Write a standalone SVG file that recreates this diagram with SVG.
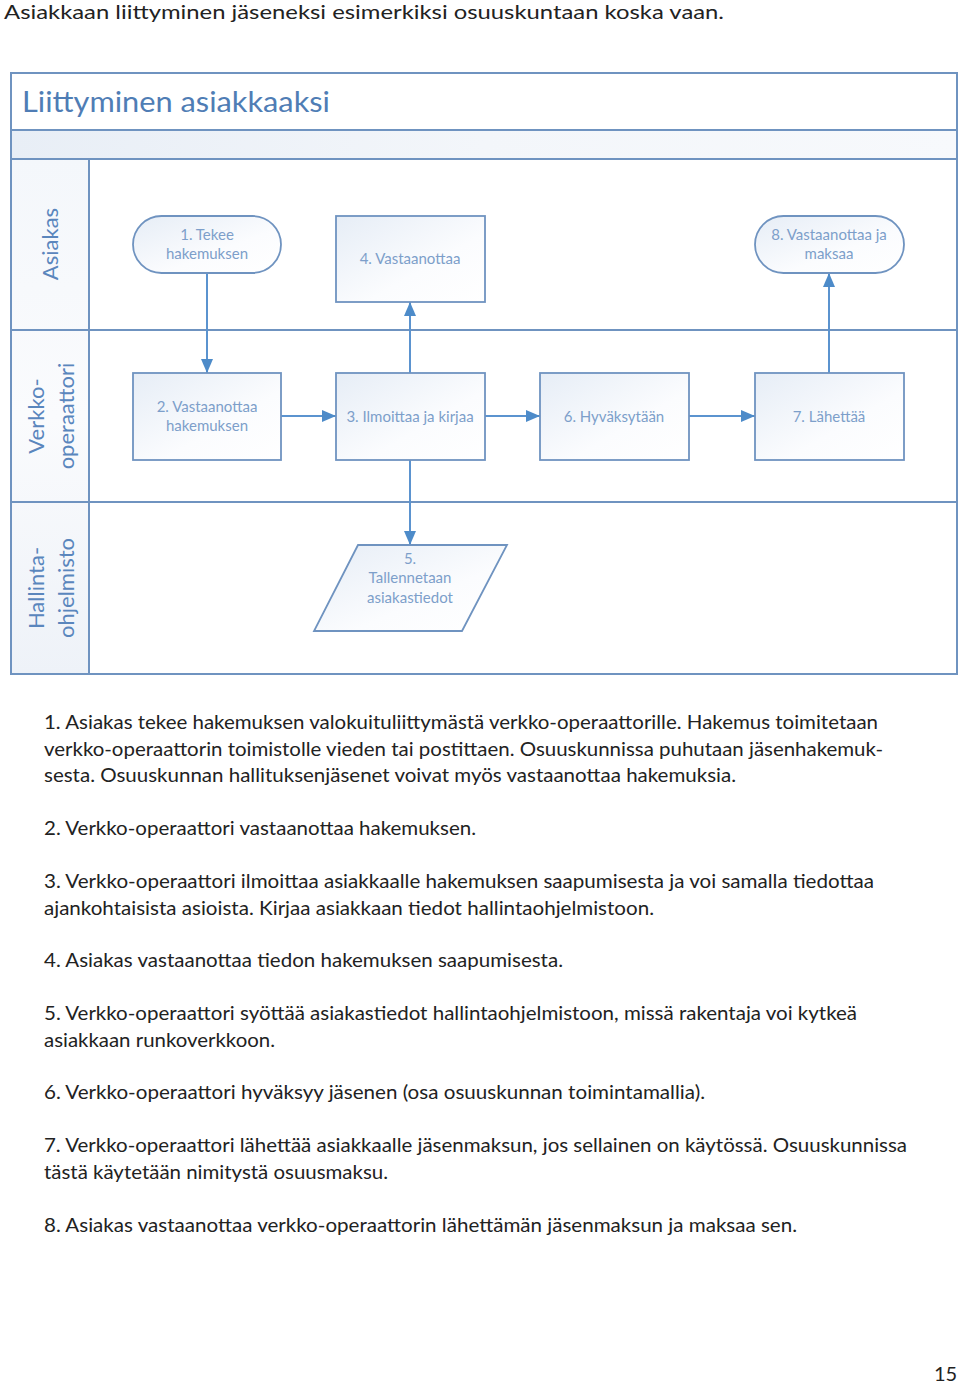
<svg xmlns="http://www.w3.org/2000/svg" width="960" height="1386" viewBox="0 0 960 1386">
<defs>
<linearGradient id="nodeGrad" x1="0" y1="0" x2="1" y2="1">
<stop offset="0" stop-color="#e6edf6"/>
<stop offset="0.6" stop-color="#fbfcfe"/>
<stop offset="1" stop-color="#ffffff"/>
</linearGradient>
<linearGradient id="laneGrad" x1="0" y1="0" x2="0" y2="1">
<stop offset="0" stop-color="#f4f7fb"/>
<stop offset="0.5" stop-color="#fafbfd"/>
<stop offset="1" stop-color="#eef2f8"/>
</linearGradient>
<linearGradient id="bandGrad" x1="0" y1="0" x2="1" y2="0">
<stop offset="0" stop-color="#e8eef6"/>
<stop offset="0.5" stop-color="#f3f6fa"/>
<stop offset="1" stop-color="#f7f9fc"/>
</linearGradient>
<marker id="arrow" markerWidth="14" markerHeight="12" refX="14" refY="6" orient="auto" markerUnits="userSpaceOnUse">
<path d="M0,0 L14,6 L0,12 Z" fill="#4d8bc9"/>
</marker>
</defs>
<style>
.body{font-family:Lato,"Open Sans","Liberation Sans",sans-serif;font-size:20px;fill:#222222}
.frame{fill:none;stroke:#6f93c0;stroke-width:2}
.node{fill:url(#nodeGrad);stroke:#6f93c0;stroke-width:1.8}
.ntext{font-family:Lato,"Open Sans","Liberation Sans",sans-serif;font-size:15px;fill:#7d9fca;text-anchor:middle}
.lane{font-family:Lato,"Open Sans","Liberation Sans",sans-serif;font-size:22px;fill:#5a86bd;text-anchor:middle}
.conn{fill:none;stroke:#5b93cf;stroke-width:2;marker-end:url(#arrow)}
</style>
<rect width="960" height="1386" fill="#ffffff"/>
<text class="body" x="4" y="19" font-size="21" textLength="720" lengthAdjust="spacingAndGlyphs">Asiakkaan liittyminen jäseneksi esimerkiksi osuuskuntaan koska vaan.</text>

<g id="frame">
<rect x="11" y="130" width="946" height="29" fill="url(#bandGrad)"/>
<rect x="11" y="159" width="78" height="515" fill="url(#laneGrad)"/>
<rect x="11" y="73" width="946" height="601" class="frame"/>
<line x1="11" y1="130" x2="957" y2="130" class="frame"/>
<line x1="11" y1="159" x2="957" y2="159" class="frame"/>
<line x1="11" y1="330" x2="957" y2="330" class="frame"/>
<line x1="11" y1="502" x2="957" y2="502" class="frame"/>
<line x1="89" y1="159" x2="89" y2="674" class="frame"/>
<text x="22" y="112" font-family="Lato,'Open Sans','Liberation Sans',sans-serif" font-size="28" fill="#4f7db5" textLength="308" lengthAdjust="spacingAndGlyphs">Liittyminen asiakkaaksi</text>
</g>

<g id="lane-asiakas">
<text class="lane" transform="translate(58,244) rotate(-90)">Asiakas</text>
</g>
<g id="lane-verkko">
<text class="lane" transform="translate(44,416) rotate(-90)">Verkko-</text>
<text class="lane" transform="translate(74,416) rotate(-90)">operaattori</text>
</g>
<g id="lane-hallinta">
<text class="lane" transform="translate(44,588) rotate(-90)">Hallinta-</text>
<text class="lane" transform="translate(74,588) rotate(-90)">ohjelmisto</text>
</g>

<g id="connectors">
<line x1="207" y1="273" x2="207" y2="373" class="conn"/>
<line x1="281" y1="416" x2="336" y2="416" class="conn"/>
<line x1="410" y1="373" x2="410" y2="302" class="conn"/>
<line x1="410" y1="460" x2="410" y2="545" class="conn"/>
<line x1="485" y1="416" x2="540" y2="416" class="conn"/>
<line x1="689" y1="416" x2="755" y2="416" class="conn"/>
<line x1="829" y1="373" x2="829" y2="273" class="conn"/>
</g>

<g id="node1">
<rect x="133" y="216" width="148" height="57" rx="28.5" class="node"/>
<text class="ntext" x="207" y="240">1. Tekee</text>
<text class="ntext" x="207" y="259">hakemuksen</text>
</g>
<g id="node4">
<rect x="336" y="216" width="149" height="86" class="node"/>
<text class="ntext" x="410" y="264">4. Vastaanottaa</text>
</g>
<g id="node8">
<rect x="755" y="216" width="149" height="57" rx="28.5" class="node"/>
<text class="ntext" x="829" y="240">8. Vastaanottaa ja</text>
<text class="ntext" x="829" y="259">maksaa</text>
</g>
<g id="node2">
<rect x="133" y="373" width="148" height="87" class="node"/>
<text class="ntext" x="207" y="412">2. Vastaanottaa</text>
<text class="ntext" x="207" y="431">hakemuksen</text>
</g>
<g id="node3">
<rect x="336" y="373" width="149" height="87" class="node"/>
<text class="ntext" x="410" y="422">3. Ilmoittaa ja kirjaa</text>
</g>
<g id="node6">
<rect x="540" y="373" width="149" height="87" class="node"/>
<text class="ntext" x="614" y="422">6. Hyväksytään</text>
</g>
<g id="node7">
<rect x="755" y="373" width="149" height="87" class="node"/>
<text class="ntext" x="829" y="422">7. Lähettää</text>
</g>
<g id="node5">
<polygon points="358,545 507,545 462,631 314,631" class="node"/>
<text class="ntext" x="410" y="564">5.</text>
<text class="ntext" x="410" y="583">Tallennetaan</text>
<text class="ntext" x="410" y="603">asiakastiedot</text>
</g>

<g id="description">
<text class="body" x="44" y="729" textLength="834" lengthAdjust="spacingAndGlyphs">1. Asiakas tekee hakemuksen valokuituliittymästä verkko-operaattorille. Hakemus toimitetaan</text>
<text class="body" x="44" y="756" textLength="839" lengthAdjust="spacingAndGlyphs">verkko-operaattorin toimistolle vieden tai postittaen. Osuuskunnissa puhutaan jäsenhakemuk-</text>
<text class="body" x="44" y="782" textLength="692" lengthAdjust="spacingAndGlyphs">sesta. Osuuskunnan hallituksenjäsenet voivat myös vastaanottaa hakemuksia.</text>
<text class="body" x="44" y="835" textLength="432" lengthAdjust="spacingAndGlyphs">2. Verkko-operaattori vastaanottaa hakemuksen.</text>
<text class="body" x="44" y="888" textLength="830" lengthAdjust="spacingAndGlyphs">3. Verkko-operaattori ilmoittaa asiakkaalle hakemuksen saapumisesta ja voi samalla tiedottaa</text>
<text class="body" x="44" y="915" textLength="610" lengthAdjust="spacingAndGlyphs">ajankohtaisista asioista. Kirjaa asiakkaan tiedot hallintaohjelmistoon.</text>
<text class="body" x="44" y="967" textLength="519" lengthAdjust="spacingAndGlyphs">4. Asiakas vastaanottaa tiedon hakemuksen saapumisesta.</text>
<text class="body" x="44" y="1020" textLength="813" lengthAdjust="spacingAndGlyphs">5. Verkko-operaattori syöttää asiakastiedot hallintaohjelmistoon, missä rakentaja voi kytkeä</text>
<text class="body" x="44" y="1047" textLength="231" lengthAdjust="spacingAndGlyphs">asiakkaan runkoverkkoon.</text>
<text class="body" x="44" y="1099" textLength="661" lengthAdjust="spacingAndGlyphs">6. Verkko-operaattori hyväksyy jäsenen (osa osuuskunnan toimintamallia).</text>
<text class="body" x="44" y="1152" textLength="863" lengthAdjust="spacingAndGlyphs">7. Verkko-operaattori lähettää asiakkaalle jäsenmaksun, jos sellainen on käytössä. Osuuskunnissa</text>
<text class="body" x="44" y="1179" textLength="344" lengthAdjust="spacingAndGlyphs">tästä käytetään nimitystä osuusmaksu.</text>
<text class="body" x="44" y="1232" textLength="753" lengthAdjust="spacingAndGlyphs">8. Asiakas vastaanottaa verkko-operaattorin lähettämän jäsenmaksun ja maksaa sen.</text>
</g>
<text class="body" x="934" y="1381" font-size="19">15</text>
</svg>
